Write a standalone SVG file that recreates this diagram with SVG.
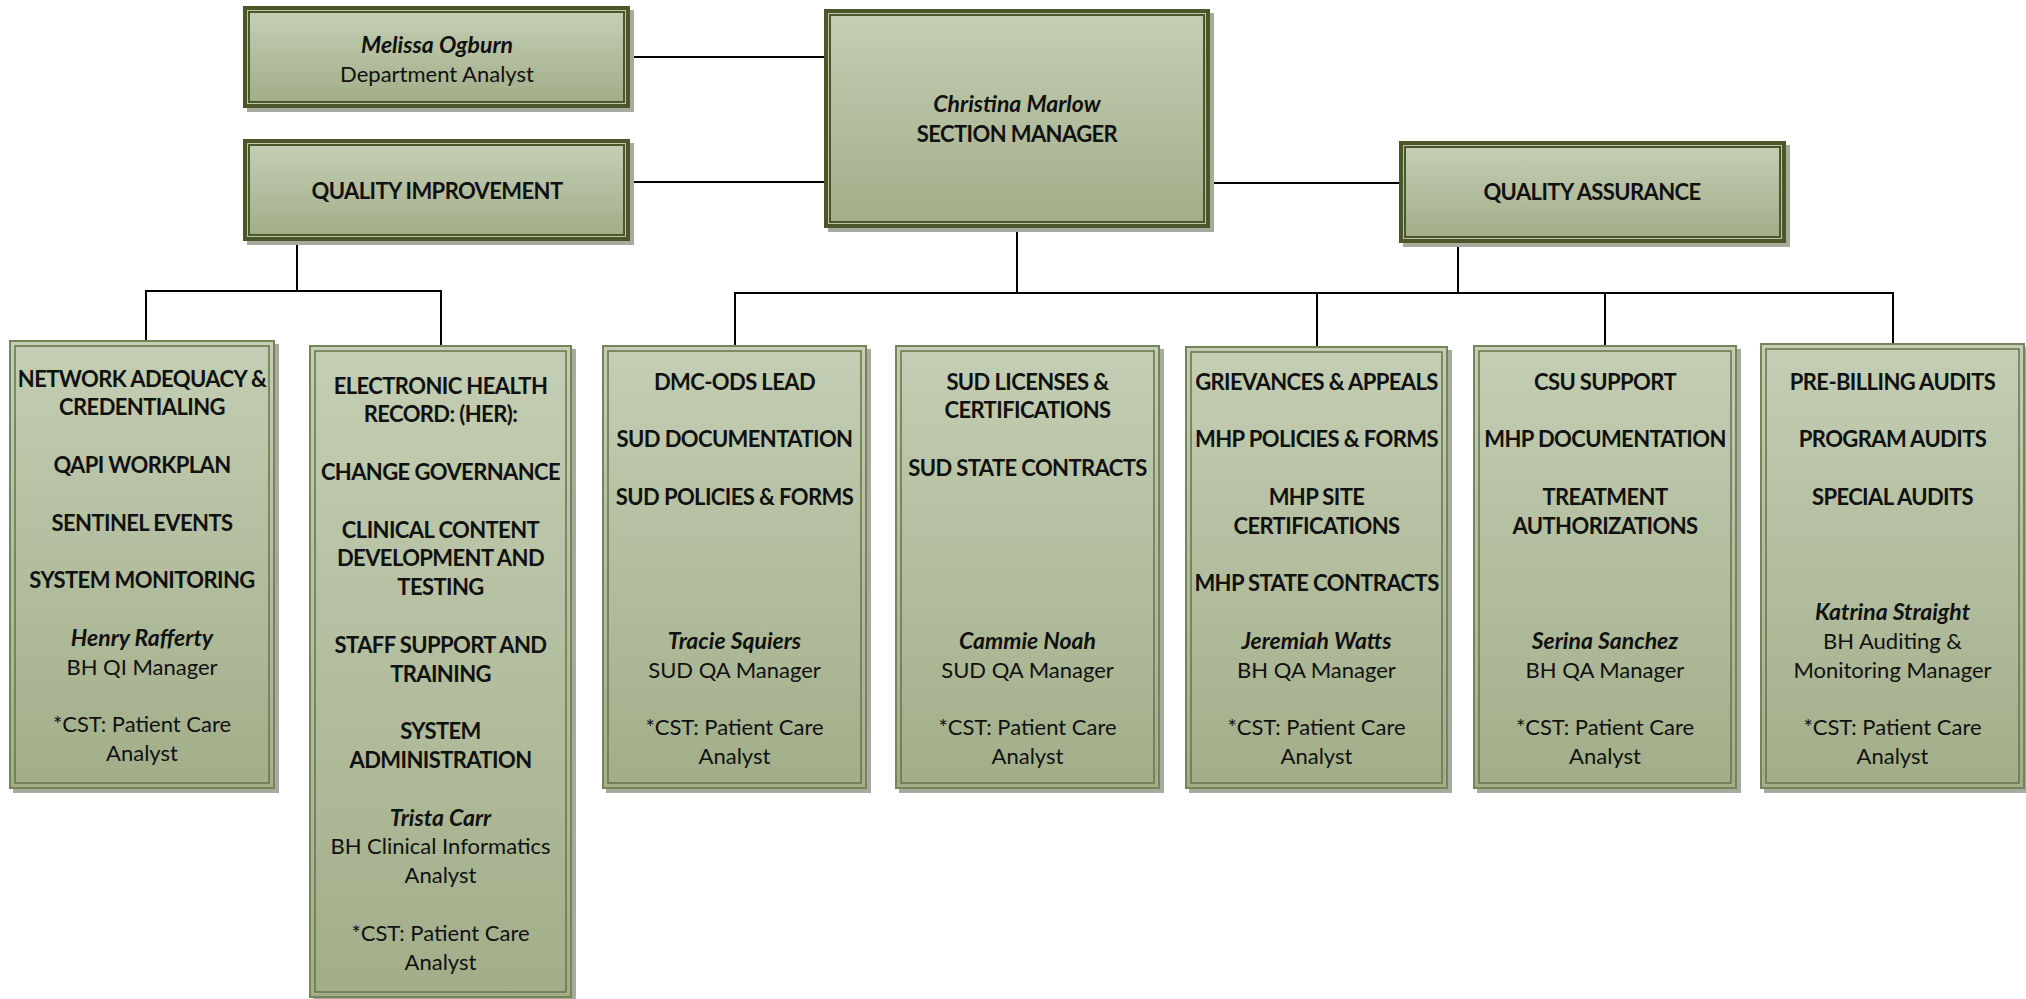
<svg xmlns="http://www.w3.org/2000/svg" width="2026" height="999" viewBox="0 0 2026 999">
<defs>
<linearGradient id="g" x1="0" y1="0" x2="0" y2="1">
<stop offset="0" stop-color="#c3ceb4"/>
<stop offset="1" stop-color="#a2ae89"/>
</linearGradient>
<style>
.sh{fill:#a6ab9d}
.od{fill:#4b5729}
.ol{fill:#bcc5aa}
.fl{fill:url(#g)}
.bo{fill:url(#g);stroke:#76845a;stroke-width:2}
.bi{fill:none;stroke:#66744a;stroke-width:1.5}
text{font-family:Lato,"Liberation Sans",sans-serif;font-size:22px;fill:#111;text-anchor:middle}
.b{font-weight:bold;letter-spacing:-0.6px}
.i{font-weight:bold;font-style:italic;font-size:23px}
.c{fill:none;stroke:#000;stroke-width:2}
</style>
</defs>
<rect width="2026" height="999" fill="#fff"/>

<g id="connectors">
<path class="c" d="M631,32 V57 H826"/>
<path class="c" d="M630,182 H826 V220"/>
<path class="c" d="M1208,220 V183 H1401 V191"/>
<path class="c" d="M1017,226 V293"/>
<path class="c" d="M1458,243 V293"/>
<path class="c" d="M735,346 V293 H1893 V343"/>
<path class="c" d="M1317,293 V347"/>
<path class="c" d="M1605,293 V345"/>
<path class="c" d="M297,241 V291"/>
<path class="c" d="M146,341 V291 H441 V346"/>
</g>

<g transform="translate(0,2.6)">
<g id="melissa">
<rect class="sh" x="247" y="7.4" width="387" height="102"/>
<rect class="od" x="243" y="3.4" width="387" height="102"/>
<rect class="ol" x="247" y="7.4" width="379" height="94"/>
<rect class="od" x="248" y="8.4" width="377" height="92"/>
<rect class="fl" x="250" y="10.4" width="373" height="88"/>
<text class="i" x="437" y="50">Melissa Ogburn</text>
<text x="437" y="79">Department Analyst</text>
</g>

<g id="qi">
<rect class="sh" x="247" y="140.4" width="387" height="102"/>
<rect class="od" x="243" y="136.4" width="387" height="102"/>
<rect class="ol" x="247" y="140.4" width="379" height="94"/>
<rect class="od" x="248" y="141.4" width="377" height="92"/>
<rect class="fl" x="250" y="143.4" width="373" height="88"/>
<text class="b" x="437" y="196">QUALITY IMPROVEMENT</text>
</g>

<g id="christina">
<rect class="sh" x="828" y="10.4" width="386" height="219"/>
<rect class="od" x="824" y="6.4" width="386" height="219"/>
<rect class="ol" x="828" y="10.4" width="378" height="211"/>
<rect class="od" x="829" y="11.4" width="376" height="209"/>
<rect class="fl" x="831" y="13.4" width="372" height="205"/>
<text class="i" x="1017" y="109">Christina Marlow</text>
<text class="b" x="1017" y="139">SECTION MANAGER</text>
</g>

<g id="qa">
<rect class="sh" x="1403" y="142.4" width="387" height="102"/>
<rect class="od" x="1399" y="138.4" width="387" height="102"/>
<rect class="ol" x="1403" y="142.4" width="379" height="94"/>
<rect class="od" x="1404" y="143.4" width="377" height="92"/>
<rect class="fl" x="1406" y="145.4" width="373" height="88"/>
<text class="b" x="1592" y="197">QUALITY ASSURANCE</text>
</g>

<g id="network">
<rect class="sh" x="13" y="341.4" width="266" height="449"/>
<rect class="bo" x="10" y="338.4" width="264" height="447"/>
<rect class="bi" x="15" y="343.4" width="254" height="437"/>
<text class="b" x="142" y="384">NETWORK ADEQUACY &amp;</text>
<text class="b" x="142" y="412.8">CREDENTIALING</text>
<text class="b" x="142" y="470.4">QAPI WORKPLAN</text>
<text class="b" x="142" y="528">SENTINEL EVENTS</text>
<text class="b" x="142" y="585.6">SYSTEM MONITORING</text>
<text class="i" x="142" y="643.2">Henry Rafferty</text>
<text x="142" y="672">BH QI Manager</text>
<text x="142" y="729.6">*CST: Patient Care</text>
<text x="142" y="758.4">Analyst</text>
</g>

<g id="ehr">
<rect class="sh" x="313" y="346.4" width="263" height="653"/>
<rect class="bo" x="310" y="343.4" width="261" height="651"/>
<rect class="bi" x="315" y="348.4" width="251" height="641"/>
<text class="b" x="440.5" y="391">ELECTRONIC HEALTH</text>
<text class="b" x="440.5" y="419.8">RECORD: (HER):</text>
<text class="b" x="440.5" y="477.4">CHANGE GOVERNANCE</text>
<text class="b" x="440.5" y="535">CLINICAL CONTENT</text>
<text class="b" x="440.5" y="563.8">DEVELOPMENT AND</text>
<text class="b" x="440.5" y="592.6">TESTING</text>
<text class="b" x="440.5" y="650.2">STAFF SUPPORT AND</text>
<text class="b" x="440.5" y="679">TRAINING</text>
<text class="b" x="440.5" y="736.6">SYSTEM</text>
<text class="b" x="440.5" y="765.4">ADMINISTRATION</text>
<text class="i" x="440.5" y="823">Trista Carr</text>
<text x="440.5" y="851.8">BH Clinical Informatics</text>
<text x="440.5" y="880.6">Analyst</text>
<text x="440.5" y="938.2">*CST: Patient Care</text>
<text x="440.5" y="967">Analyst</text>
</g>

<g id="dmc">
<rect class="sh" x="606" y="346.4" width="265" height="444"/>
<rect class="bo" x="603" y="343.4" width="263" height="442"/>
<rect class="bi" x="608" y="348.4" width="253" height="432"/>
<text class="b" x="734.5" y="387">DMC-ODS LEAD</text>
<text class="b" x="734.5" y="444.6">SUD DOCUMENTATION</text>
<text class="b" x="734.5" y="502.2">SUD POLICIES &amp; FORMS</text>
<text class="i" x="734.5" y="646.2">Tracie Squiers</text>
<text x="734.5" y="675">SUD QA Manager</text>
<text x="734.5" y="732.6">*CST: Patient Care</text>
<text x="734.5" y="761.4">Analyst</text>
</g>

<g id="sudlic">
<rect class="sh" x="899" y="346.4" width="265" height="444"/>
<rect class="bo" x="896" y="343.4" width="263" height="442"/>
<rect class="bi" x="901" y="348.4" width="253" height="432"/>
<text class="b" x="1027.5" y="387">SUD LICENSES &amp;</text>
<text class="b" x="1027.5" y="415.8">CERTIFICATIONS</text>
<text class="b" x="1027.5" y="473.4">SUD STATE CONTRACTS</text>
<text class="i" x="1027.5" y="646.2">Cammie Noah</text>
<text x="1027.5" y="675">SUD QA Manager</text>
<text x="1027.5" y="732.6">*CST: Patient Care</text>
<text x="1027.5" y="761.4">Analyst</text>
</g>

<g id="grievances">
<rect class="sh" x="1189" y="347.4" width="263" height="443"/>
<rect class="bo" x="1186" y="344.4" width="261" height="441"/>
<rect class="bi" x="1191" y="349.4" width="251" height="431"/>
<text class="b" x="1316.5" y="387">GRIEVANCES &amp; APPEALS</text>
<text class="b" x="1316.5" y="444.6">MHP POLICIES &amp; FORMS</text>
<text class="b" x="1316.5" y="502.2">MHP SITE</text>
<text class="b" x="1316.5" y="531">CERTIFICATIONS</text>
<text class="b" x="1316.5" y="588.6">MHP STATE CONTRACTS</text>
<text class="i" x="1316.5" y="646.2">Jeremiah Watts</text>
<text x="1316.5" y="675">BH QA Manager</text>
<text x="1316.5" y="732.6">*CST: Patient Care</text>
<text x="1316.5" y="761.4">Analyst</text>
</g>

<g id="csu">
<rect class="sh" x="1477" y="346.4" width="264" height="444"/>
<rect class="bo" x="1474" y="343.4" width="262" height="442"/>
<rect class="bi" x="1479" y="348.4" width="252" height="432"/>
<text class="b" x="1605" y="387">CSU SUPPORT</text>
<text class="b" x="1605" y="444.6">MHP DOCUMENTATION</text>
<text class="b" x="1605" y="502.2">TREATMENT</text>
<text class="b" x="1605" y="531">AUTHORIZATIONS</text>
<text class="i" x="1605" y="646.2">Serina Sanchez</text>
<text x="1605" y="675">BH QA Manager</text>
<text x="1605" y="732.6">*CST: Patient Care</text>
<text x="1605" y="761.4">Analyst</text>
</g>

<g id="audits">
<rect class="sh" x="1764" y="344.4" width="265" height="446"/>
<rect class="bo" x="1761" y="341.4" width="263" height="444"/>
<rect class="bi" x="1766" y="346.4" width="253" height="434"/>
<text class="b" x="1892.5" y="387">PRE-BILLING AUDITS</text>
<text class="b" x="1892.5" y="444.6">PROGRAM AUDITS</text>
<text class="b" x="1892.5" y="502.2">SPECIAL AUDITS</text>
<text class="i" x="1892.5" y="617.4">Katrina Straight</text>
<text x="1892.5" y="646.2">BH Auditing &amp;</text>
<text x="1892.5" y="675">Monitoring Manager</text>
<text x="1892.5" y="732.6">*CST: Patient Care</text>
<text x="1892.5" y="761.4">Analyst</text>
</g>
</g>
</svg>
